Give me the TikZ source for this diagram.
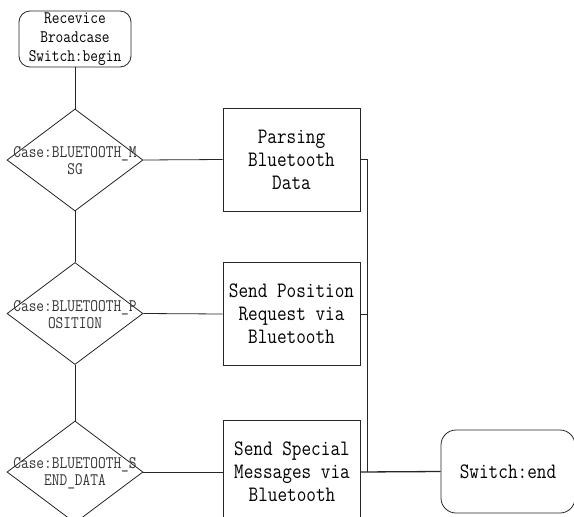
\documentclass[tikz,border=0pt]{standalone}
\usepackage{fontspec}
\setmonofont{Latin Modern Mono}[FakeStretch=0.85]
\usetikzlibrary{shapes.geometric}

\tikzset{
  flow/.style={draw=black!85, line width=0.8pt},
  termbox/.style={flow, rounded corners=11pt, inner sep=0pt, align=center},
  procbox/.style={flow, rectangle, minimum width=137pt, minimum height=103pt, inner sep=0pt, align=center,
    font=\fontsize{22}{23}\selectfont\ttfamily},
  casebox/.style={flow, diamond, minimum width=136pt, minimum height=102pt, inner sep=0pt},
  casetext/.style={align=center, inner sep=0pt, font=\fontsize{17.6}{17}\selectfont\ttfamily, text=black!80},
  link/.style={draw=black!85, line width=0.8pt}
}

\begin{document}
\begin{tikzpicture}[x=1pt, y=-1pt]
  \useasboundingbox (0,0) rectangle (574,517);
  \clip (0,0) rectangle (574,517);

  % start terminal
  \node[termbox, minimum width=112pt, minimum height=56pt,
        font=\fontsize{17.6}{19}\selectfont\ttfamily] (start) at (75,39)
        {Recevice\\Broadcase\\Switch:begin};

  % case decisions
  \node[casebox] (d1) at (75,160) {};
  \node[casetext] (t1) at (75,161) {Case:BLUETOOTH\_M\\SG};
  \node[casebox] (d2) at (75,313.5) {};
  \node[casetext] (t2) at (75,314.5) {Case:BLUETOOTH\_P\\OSITION};
  \node[casebox] (d3) at (75,472) {};
  \node[casetext] (t3) at (75,473) {Case:BLUETOOTH\_S\\END\_DATA};

  % actions
  \node[procbox] (b1) at (291.5,159.5) {Parsing\\Bluetooth\\Data};
  \node[procbox] (b2) at (291.5,314) {Send Position\\Request via\\Bluetooth};
  \node[procbox] (b3) at (292,472) {Send Special\\Messages via\\Bluetooth};

  % end terminal
  \node[termbox, rounded corners=15pt, minimum width=134pt, minimum height=83pt,
        font=\fontsize{22}{23}\selectfont\ttfamily] (end) at (508,471.5) {Switch:end};

  % collecting line
  \coordinate (bus) at (367,472);

  % connectors
  \draw[link] (start.south) -- (d1.north);
  \draw[link] (d1.south) -- (d2.north);
  \draw[link] (d2.south) -- (d3.north);
  \draw[link] (d1.east) -- (b1.west);
  \draw[link] (d2.east) -- (b2.west);
  \draw[link] (d3.east) -- (b3.west);
  \draw[link] (b1.east) -| (bus);
  \draw[link] (b2.east) -- (b2.east -| bus);
  \draw[link, line width=1.3pt] (b3.east) -- (end.west);
\end{tikzpicture}
\end{document}
